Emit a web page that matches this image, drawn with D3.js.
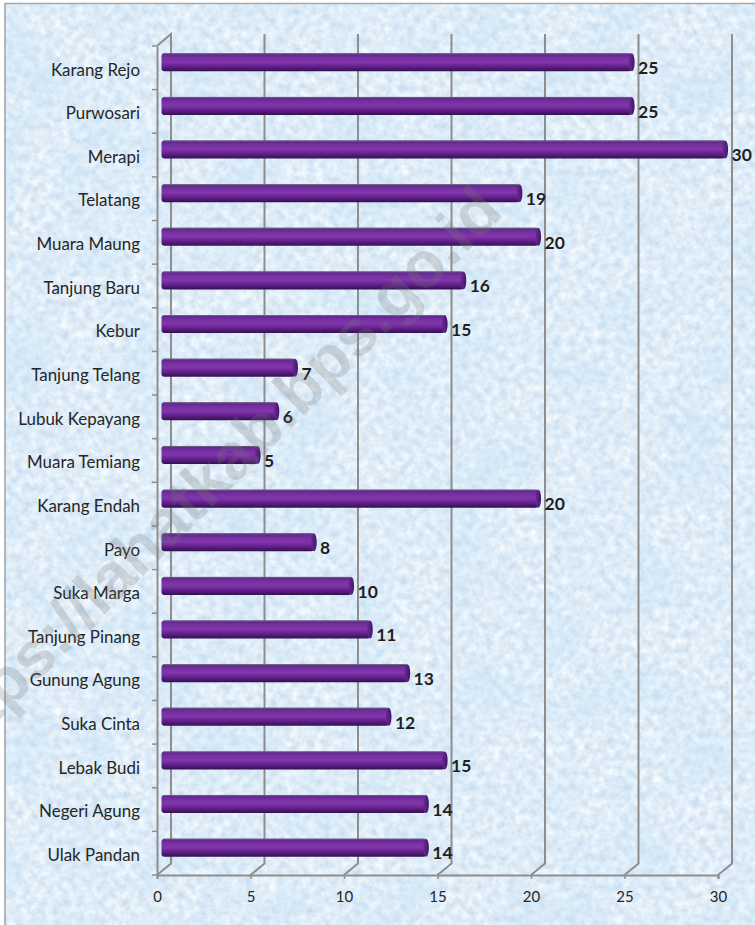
<!DOCTYPE html>
<html>
<head>
<meta charset="utf-8">
<script src="https://cdn.jsdelivr.net/npm/d3@7"></script>
<style>
  html, body { margin: 0; padding: 0; background: #fff; overflow: hidden; }
  text { font-family: Lato, "Open Sans", sans-serif; }
</style>
</head>
<body>
<div id="chart"></div>
<script>
// Data
const villages = ["Karang Rejo", "Purwosari", "Merapi", "Telatang", "Muara Maung", "Tanjung Baru", "Kebur", "Tanjung Telang", "Lubuk Kepayang", "Muara Temiang", "Karang Endah", "Payo", "Suka Marga", "Tanjung Pinang", "Gunung Agung", "Suka Cinta", "Lebak Budi", "Negeri Agung", "Ulak Pandan"];
const counts = [25, 25, 30, 19, 20, 16, 15, 7, 6, 5, 20, 8, 10, 11, 13, 12, 15, 14, 14];
const xTicks = [0, 5, 10, 15, 20, 25, 30];
const watermark = "https://lahatkab.bps.go.id";

// Set dimensions
const width = 755;
const height = 925;
const depthX = 14; // 3d wall offset
const depthY = 11.5;
const axisColor = "#8e8e8e";

const svg = d3.select("#chart").append("svg").attr("width", width).attr("height", height).style("display", "block");
const defs = svg.append("defs");

// Paper texture for the background: fine grain plus soft blue patches
const paper = defs.append("filter").attr("id", "paper").attr("x", 0).attr("y", 0).attr("width", "100%").attr("height", "100%").attr("color-interpolation-filters", "sRGB");
paper.append("feTurbulence").attr("type", "fractalNoise").attr("baseFrequency", 0.13).attr("numOctaves", 4).attr("seed", 7);
paper.append("feColorMatrix").attr("type", "matrix").attr("values", "0.26 0 0 0 0.75  0.18 0 0 0 0.84  0.09 0 0 0 0.925  0 0 0 0 1");

const patches = defs.append("filter").attr("id", "patches").attr("x", 0).attr("y", 0).attr("width", "100%").attr("height", "100%").attr("color-interpolation-filters", "sRGB");
patches.append("feTurbulence").attr("type", "fractalNoise").attr("baseFrequency", 0.018).attr("numOctaves", 2).attr("seed", 3);
patches.append("feColorMatrix").attr("type", "matrix").attr("values", "0 0 0 0 0.76  0 0 0 0 0.88  0 0 0 0 0.97  0.9 0 0 0 -0.35");

// Bar shading
const barGrad = defs.append("linearGradient").attr("id", "barGrad").attr("x1", 0).attr("x2", 0).attr("y1", 0).attr("y2", 1);
[[0, "#5c2488"], [0.25, "#7530a0"], [0.48, "#8236ac"], [0.72, "#64218c"], [1, "#331050"]].forEach(([o, c]) => barGrad.append("stop").attr("offset", o).attr("stop-color", c));
const capGrad = defs.append("linearGradient").attr("id", "capGrad").attr("x1", 0).attr("x2", 1).attr("y1", 0).attr("y2", 0);
[[0, "#6b2a96"], [1, "#431568"]].forEach(([o, c]) => capGrad.append("stop").attr("offset", o).attr("stop-color", c));

// Background and frame
svg.append("rect").attr("x", 4).attr("y", 3).attr("width", width - 4).attr("height", height - 3).attr("filter", "url(#paper)");
svg.append("rect").attr("x", 4).attr("y", 3).attr("width", width - 4).attr("height", height - 3).attr("filter", "url(#patches)");
svg.append("path").attr("d", `M5,${height}V3.5H${width}`).attr("fill", "none").attr("stroke", "#a9a9a9").attr("stroke-width", 1.6);

// Set scales
const x = d3.scaleLinear().domain([0, 30]).range([157, 718]);
const y = d3.scaleBand().domain(villages).range([46, 875]);

// Back wall lines with the slanted floor piece
svg.append("g").selectAll("path").data(xTicks).enter().append("path")
  .attr("d", (d) => `M${x(d)},${y.range()[1]}L${x(d) + depthX},${y.range()[1] - depthY}V34` + (d === 0 ? `L${x(d)},${y.range()[0]}` : ""))
  .attr("fill", "none").attr("stroke", axisColor).attr("stroke-width", 2);

// Front axes
const gy = svg.append("g").attr("transform", `translate(${x(0)},0)`)
  .call(d3.axisLeft(y).tickSize(0).tickPadding(17));
gy.select(".domain").attr("stroke", axisColor).attr("stroke-width", 2);
gy.selectAll(".tick text").style("font-size", "16.9px").attr("fill", "#262626").attr("dy", "0.46em");
// ticks sit between the categories, not on them
svg.append("g").selectAll("line").data(villages.concat("end")).enter().append("line")
  .attr("x1", x(0) - 5).attr("x2", x(0))
  .attr("y1", (d, i) => y.range()[0] + i * y.bandwidth()).attr("y2", (d, i) => y.range()[0] + i * y.bandwidth())
  .attr("stroke", axisColor).attr("stroke-width", 1.5);

const gx = svg.append("g").attr("transform", `translate(0,${y.range()[1]})`)
  .call(d3.axisBottom(x).tickValues(xTicks).tickSize(4).tickPadding(12));
gx.select(".domain").attr("stroke", axisColor).attr("stroke-width", 2);
gx.selectAll(".tick line").attr("stroke", axisColor).attr("stroke-width", 1.5);
gx.selectAll(".tick text").style("font-size", "15px").attr("fill", "#262626");

// Bars
const rows = villages.map((name, i) => ({name, value: counts[i]}));
const barH = 18;
const bars = svg.append("g").selectAll("g").data(rows).enter().append("g")
  .attr("transform", (d) => `translate(0,${y(d.name) + y.bandwidth() / 2 - 5.5})`);

bars.append("rect")
  .attr("x", x(0) + 4.5)
  .attr("y", -barH / 2)
  .attr("width", (d) => x(d.value) - x(0) + 3)
  .attr("height", barH)
  .attr("rx", 3)
  .attr("fill", "url(#barGrad)");
bars.append("line")
  .attr("x1", x(0) + 6)
  .attr("x2", (d) => x(d.value) + 7)
  .attr("y1", -barH / 2 + 0.4)
  .attr("y2", -barH / 2 + 0.4)
  .attr("stroke", "#6f6f7d")
  .attr("stroke-width", 0.8);
bars.append("ellipse")
  .attr("cx", (d) => x(d.value) + 7.3)
  .attr("cy", 0)
  .attr("rx", 2.8)
  .attr("ry", barH / 2)
  .attr("fill", "url(#capGrad)");

// Value labels
bars.append("text")
  .attr("x", (d) => x(d.value) + 13.5)
  .attr("y", 5.5)
  .attr("dy", "0.36em")
  .style("font-size", "17.5px")
  .style("font-weight", 700)
  .attr("fill", "#1f1f1f")
  .text((d) => d.value);

// Watermark on top of everything
svg.append("text")
  .attr("transform", "translate(505,214) rotate(-45)")
  .attr("text-anchor", "end")
  .style("font-family", '"Liberation Sans", sans-serif')
  .style("font-size", "65px")
  .style("font-weight", 700)
  .attr("fill", "#777")
  .attr("fill-opacity", 0.25)
  .text(watermark);
</script>
</body>
</html>
